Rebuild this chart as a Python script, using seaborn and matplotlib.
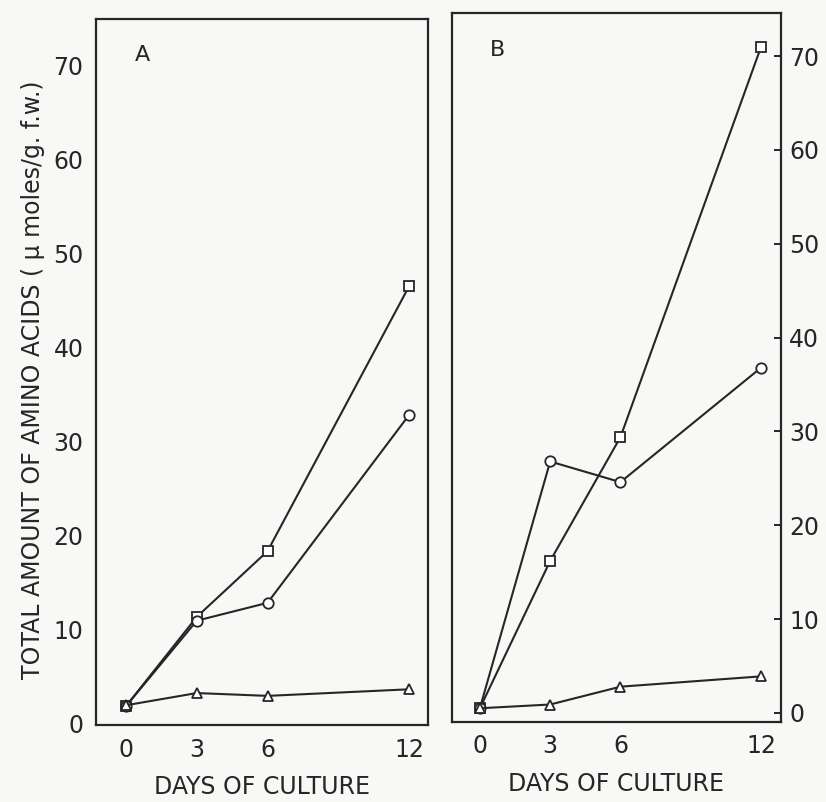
import matplotlib
matplotlib.use("Agg")
import matplotlib.pyplot as plt
import seaborn as sns
import pandas as pd

sns.set_theme(style="white")
plt.rcParams['font.family'] = ['DejaVu Sans']

days = [0, 3, 6, 12]
series_names = ["square", "circle", "triangle"]
markers = {"square": "s", "circle": "o", "triangle": "^"}

a_square = [1.8, 11.3, 18.3, 46.5]
a_circle = [1.8, 10.9, 12.8, 32.8]
a_triangle = [1.9, 3.2, 2.9, 3.6]

b_square = [0.5, 16.2, 29.4, 71.0]
b_circle = [0.5, 26.8, 24.6, 36.8]
b_triangle = [0.5, 0.9, 2.8, 3.9]

yticks = [0, 10, 20, 30, 40, 50, 60, 70]
xticks = [0, 3, 6, 12]


def make_df(sq, ci, tr):
    rows = []
    for name, vals in zip(series_names, [sq, ci, tr]):
        for d, v in zip(days, vals):
            rows.append({"day": d, "value": v, "series": name})
    return pd.DataFrame(rows)


ink = "#262626"
bg = "#f8f8f6"

fig = plt.figure(figsize=(8.26, 8.02), dpi=100, facecolor=bg)
axA = fig.add_axes([0.1162, 0.096, 0.402, 0.880])
axB = fig.add_axes([0.5472, 0.0998, 0.3983, 0.884])

for ax, df, label, ylim, xlim, lpos in [
    (axA, make_df(a_square, a_circle, a_triangle), "A", (-0.2, 74.9), (-1.27, 12.8), (0.139, 0.950)),
    (axB, make_df(b_square, b_circle, b_triangle), "B", (-0.96, 74.6), (-1.19, 12.85), (0.137, 0.948)),
]:
    ax.set_facecolor(bg)
    sns.lineplot(data=df, x="day", y="value", style="series", markers=markers,
                 dashes=False, color=ink, linewidth=1.5, markersize=7.5,
                 markerfacecolor="white", markeredgecolor=ink, mew=1.3,
                 legend=False, ax=ax)
    ax.set_xlim(*xlim)
    ax.set_ylim(*ylim)
    ax.set_xticks(xticks)
    ax.set_yticks(yticks)
    ax.set_xlabel("DAYS OF CULTURE", fontsize=17, color=ink, labelpad=10)
    ax.set_ylabel("")
    for s in ax.spines.values():
        s.set_visible(True)
        s.set_color(ink)
        s.set_linewidth(1.6)
    ax.tick_params(axis="both", direction="out", length=5, width=1.4,
                   colors=ink, labelsize=17, pad=4)
    ax.text(lpos[0], lpos[1], label, transform=ax.transAxes, fontsize=16,
            color=ink, ha="center", va="center")

axB.yaxis.tick_right()
axB.yaxis.set_label_position("right")
axB.tick_params(axis="y", direction="in", length=5, pad=6)
axB.tick_params(axis="x", direction="inout", length=6, pad=6)

fig.text(0.040, 0.527, "TOTAL AMOUNT OF AMINO ACIDS ( \u03bc moles/g. f.w.)",
         rotation=90, ha="center", va="center", fontsize=17, color=ink)

fig.savefig("out.png", dpi=100, facecolor=bg)
